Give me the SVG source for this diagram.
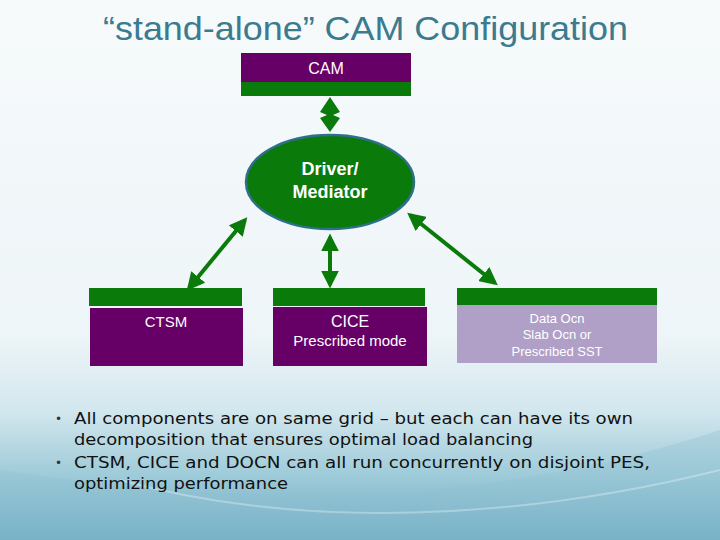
<svg xmlns="http://www.w3.org/2000/svg" width="720" height="540" viewBox="0 0 720 540">
<defs>
<linearGradient id="bg" x1="0" y1="0" x2="0" y2="1">
<stop offset="0" stop-color="#f6fafb"/>
<stop offset="0.62" stop-color="#eef5f8"/>
<stop offset="0.76" stop-color="#d3e7ee"/>
<stop offset="0.88" stop-color="#9ecbd9"/>
<stop offset="1" stop-color="#6cabc1"/>
</linearGradient>
<marker id="ah" viewBox="0 0 10 10" refX="8" refY="5" markerWidth="4.5" markerHeight="4.5" orient="auto-start-reverse" markerUnits="strokeWidth">
<path d="M0,0 L10,5 L0,10 Z" fill="#0a7a0a"/>
</marker>
<style>
.title{font-family:"Liberation Sans",Arial,sans-serif;font-size:33px;fill:#3a7b90}
.lbl{font-family:"Liberation Sans",Arial,sans-serif;fill:#ffffff;text-anchor:middle}
.green{fill:#0a7a0a}
.purple{fill:#660066}
.conn{stroke:#0a7a0a;stroke-width:4;fill:none;marker-start:url(#ah);marker-end:url(#ah)}
.bul{font-family:"DejaVu Sans",Verdana,sans-serif;font-size:16px;fill:#111111}
.dot{font-family:"DejaVu Sans",Verdana,sans-serif;font-size:12px;fill:#333333}
</style>
</defs>
<rect width="720" height="540" fill="url(#bg)"/>
<path d="M0,470 C200,500 450,520 720,430 L720,540 L0,540 Z" fill="#8fc1d2" opacity="0.35"/>
<path d="M120,480 C300,530 520,520 720,470" stroke="#ffffff" stroke-width="2" fill="none" opacity="0.3"/>
<text class="title" x="103" y="40" textLength="525" lengthAdjust="spacingAndGlyphs">“stand-alone” CAM Configuration</text>

<g id="cam">
<rect class="purple" x="241" y="53" width="170" height="29"/>
<rect class="green" x="241" y="82" width="170" height="14"/>
<text class="lbl" x="326" y="74" font-size="16">CAM</text>
</g>

<g id="driver">
<ellipse cx="330" cy="182" rx="84" ry="47" fill="#0a7a0a" stroke="#2e6f8a" stroke-width="2.5"/>
<text class="lbl" x="330" y="175" font-size="18" font-weight="bold" fill="#eef7e8">Driver/</text>
<text class="lbl" x="330" y="198" font-size="18" font-weight="bold" fill="#eef7e8">Mediator</text>
</g>

<g id="ctsm">
<rect class="green" x="89" y="288" width="153" height="18"/>
<rect class="purple" x="90" y="308" width="153" height="58"/>
<text class="lbl" x="166" y="327" font-size="15">CTSM</text>
</g>

<g id="cice">
<rect class="green" x="273" y="288" width="152" height="18"/>
<rect class="purple" x="273" y="307" width="154" height="59"/>
<text class="lbl" x="350" y="327" font-size="16">CICE</text>
<text class="lbl" x="350" y="346" font-size="15">Prescribed mode</text>
</g>

<g id="docn">
<rect class="green" x="457" y="288" width="200" height="17"/>
<rect x="457" y="305" width="200" height="58" fill="#b0a0c8"/>
<text class="lbl" x="557" y="323" font-size="13">Data Ocn</text>
<text class="lbl" x="557" y="339" font-size="13">Slab Ocn or</text>
<text class="lbl" x="557" y="356" font-size="13">Prescribed SST</text>
</g>

<g id="connectors">
<path d="M330,97 L340,112 L333,115 L340,118 L330,132 L320,118 L327,115 L320,112 Z" fill="#0a7a0a"/>
<line class="conn" x1="189" y1="288" x2="245" y2="220"/>
<line class="conn" x1="330" y1="237" x2="330" y2="285"/>
<line class="conn" x1="410" y1="215" x2="495" y2="283"/>
</g>

<g id="bullets">
<text class="dot" x="55" y="423">•</text>
<text class="bul" x="74" y="424" textLength="559" lengthAdjust="spacingAndGlyphs">All components are on same grid – but each can have its own</text>
<text class="bul" x="74" y="445" textLength="459" lengthAdjust="spacingAndGlyphs">decomposition that ensures optimal load balancing</text>
<text class="dot" x="55" y="467">•</text>
<text class="bul" x="74" y="468" textLength="576" lengthAdjust="spacingAndGlyphs">CTSM, CICE and DOCN can all run concurrently on disjoint PES,</text>
<text class="bul" x="74" y="489" textLength="214" lengthAdjust="spacingAndGlyphs">optimizing performance</text>
</g>
</svg>
